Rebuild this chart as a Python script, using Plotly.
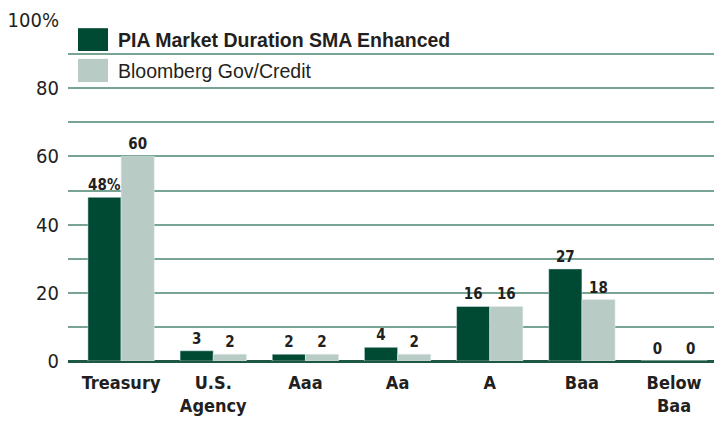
import plotly.graph_objects as go

categories = ["Treasury", "U.S.<br>Agency", "Aaa", "Aa", "A", "Baa", "Below<br>Baa"]
pia_values = [48, 3, 2, 4, 16, 27, 0]
bbg_values = [60, 2, 2, 2, 16, 18, 0]
series_names = ["PIA Market Duration SMA Enhanced", "Bloomberg Gov/Credit"]
y_tick_vals = [0, 10, 20, 30, 40, 50, 60, 70, 80, 90, 100]
y_tick_text = ["0", "", "20", "", "40", "", "60", "", "80", "", "100%"]

DARK = "#004a33"
LIGHT = "#b8ccc5"
TEXT = "#231f20"
GRID = "#78a494"
COND = "DejaVu Sans Condensed, Liberation Sans Narrow, Roboto, sans-serif"

pia_text = [f"{v}%" if i == 0 else f"{v}" for i, v in enumerate(pia_values)]
bbg_text = [f"{v}" for v in bbg_values]

fig = go.Figure()
fig.add_trace(go.Bar(x=categories, y=pia_values, name=series_names[0], marker_color=DARK,
                     text=pia_text, textposition="outside", cliponaxis=False,
                     textfont=dict(family=COND, size=15, color=TEXT, weight="bold"),
                     showlegend=False))
fig.add_trace(go.Bar(x=categories, y=bbg_values, name=series_names[1], marker_color=LIGHT,
                     text=bbg_text, textposition="outside", cliponaxis=False,
                     textfont=dict(family=COND, size=15, color=TEXT, weight="bold"),
                     showlegend=False))

# manual legend (large swatches as in reference)
leg = [(0.976, 0.909, 0.941, DARK, series_names[0], True),
       (0.886, 0.818, 0.850, LIGHT, series_names[1], False)]
for y1, y0, ty, col, name, bold in leg:
    fig.add_shape(type="rect", xref="paper", yref="paper", x0=0.0153, x1=0.0612, y0=y0, y1=y1,
                  fillcolor=col, line_width=0)
    fig.add_annotation(xref="paper", yref="paper", x=0.073, y=ty, xanchor="left", yanchor="middle",
                       text=f"<b>{name}</b>" if bold else name, showarrow=False,
                       font=dict(family="Liberation Sans", size=19.5, color=TEXT))

# page body has an 8px default margin, so the figure is 8px smaller and margins shifted
fig.update_layout(
    width=714, height=416,
    margin=dict(l=60, r=0, t=12, b=63),
    paper_bgcolor="white", plot_bgcolor="white",
    barmode="group", bargap=0.28, bargroupgap=0,
    xaxis=dict(range=[-0.576, 6.52], showgrid=False, showline=False, ticks="", automargin=False,
               ticklabelstandoff=9,
               tickfont=dict(family=COND, size=18, color=TEXT, weight="bold")),
    yaxis=dict(range=[0, 100], tickvals=y_tick_vals, ticktext=y_tick_text, showgrid=True,
               gridcolor=GRID, gridwidth=2, zeroline=True, zerolinecolor="#1d5843", zerolinewidth=3,
               ticks="", ticklabelstandoff=8, automargin=False,
               tickfont=dict(family=COND, size=20, color=TEXT)),
)

fig.write_html("out.html")
